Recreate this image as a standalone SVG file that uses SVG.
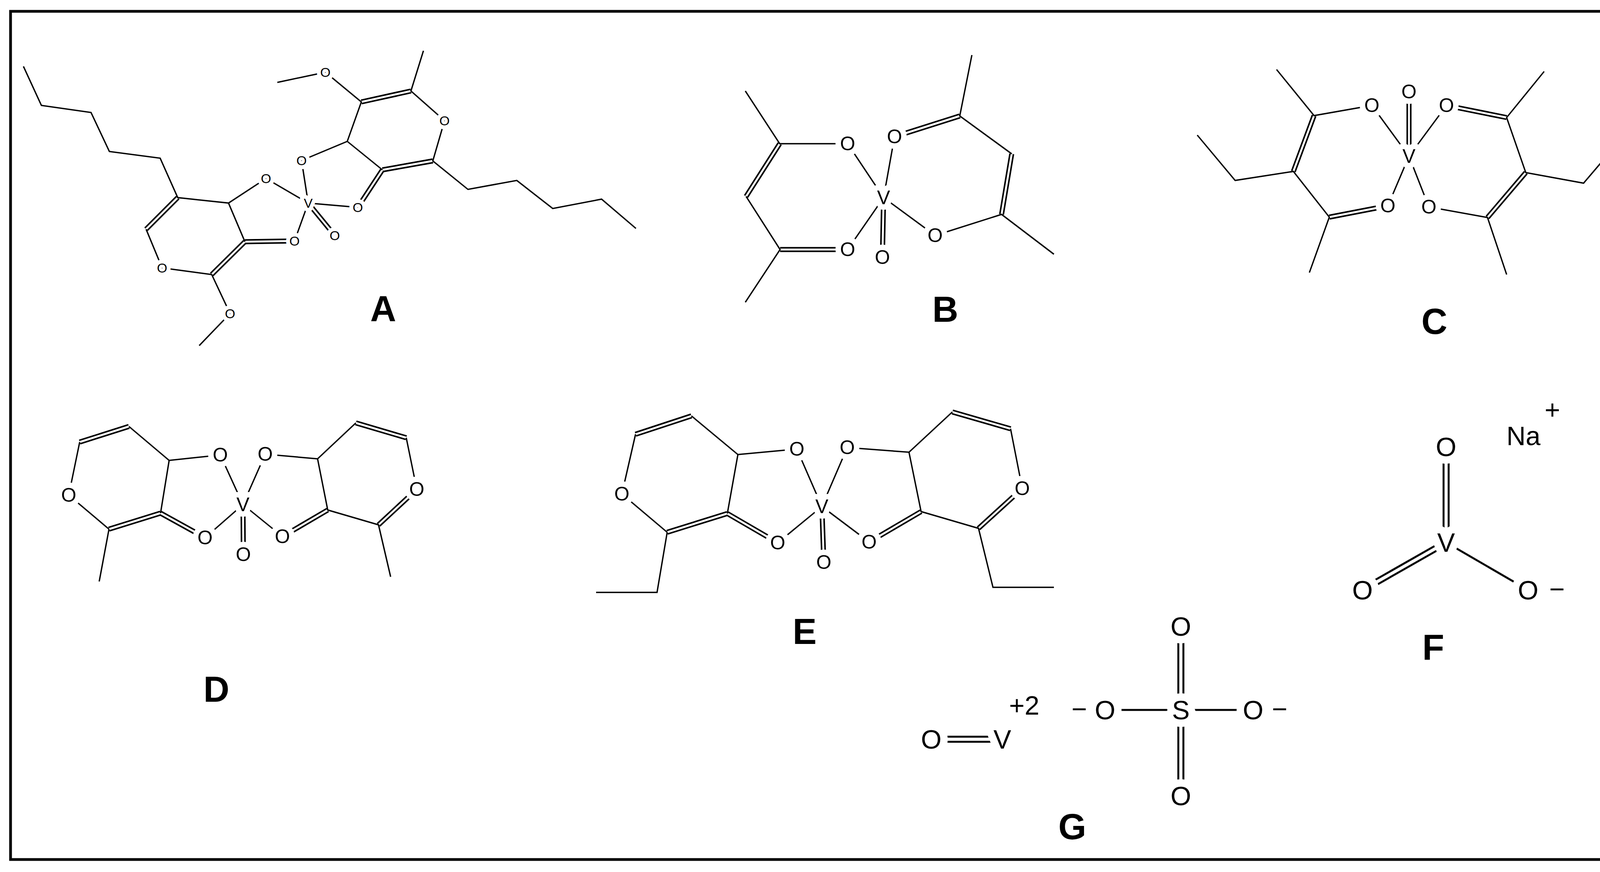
<svg xmlns="http://www.w3.org/2000/svg" width="4237" height="2233" viewBox="0 0 4237 2233">
<style>
.b{stroke:#000;stroke-width:3.5;fill:none}
.db{stroke:#000;stroke-width:13;fill:none}
.dw{stroke:#fff;stroke-width:5;fill:none}
.b2{stroke:#000;stroke-width:5;fill:none}
.db2{stroke:#000;stroke-width:18;fill:none}
.dw2{stroke:#fff;stroke-width:8;fill:none}
text{font-family:"Liberation Sans",Arial,sans-serif;text-anchor:middle;dominant-baseline:central;fill:#000;stroke-linejoin:round}
.at{font-size:34px;stroke:#fff;stroke-width:20;paint-order:stroke}
.am{font-size:50px;stroke:#fff;stroke-width:28;paint-order:stroke}
.al{font-size:68px;stroke:#fff;stroke-width:38;paint-order:stroke}
.lab{font-size:92px;font-weight:bold}
</style>
<rect x="27" y="29" width="4177" height="2172" fill="#fff" stroke="#000" stroke-width="7"/>
<g id="connectors">
<g>
<line class="db" x1="455" y1="506" x2="374" y2="587"/><line class="dw" x1="455" y1="506" x2="374" y2="587"/>
<line class="db" x1="627" y1="619" x2="542" y2="703"/><line class="dw" x1="627" y1="619" x2="542" y2="703"/>
<line class="db" x1="627" y1="619" x2="754" y2="617"/><line class="dw" x1="627" y1="619" x2="754" y2="617"/>
<line class="db" x1="789" y1="520" x2="857" y2="603"/><line class="dw" x1="789" y1="520" x2="857" y2="603"/>
<line class="db" x1="925" y1="261" x2="1052" y2="233"/><line class="dw" x1="925" y1="261" x2="1052" y2="233"/>
<line class="db" x1="1108" y1="412" x2="979" y2="435"/><line class="dw" x1="1108" y1="412" x2="979" y2="435"/>
<line class="db" x1="979" y1="435" x2="916" y2="531"/><line class="dw" x1="979" y1="435" x2="916" y2="531"/>
<polyline class="b" points="60,170 106,270 233,288 280,388 410,405 455,506 585,520 627,619"/>
<polyline class="b" points="374,587 415,686 542,703 589,803 510,885"/>
<polyline class="b" points="585,520 681,457 789,520 754,617"/>
<polyline class="b" points="789,520 772,411 889,362 925,261 833,185 710,211"/>
<polyline class="b" points="889,362 979,435"/>
<polyline class="b" points="1084,130 1052,233 1138,309 1108,412 1198,485 1323,462 1415,534 1540,510 1628,585"/>
<polyline class="b" points="789,520 916,531"/>
</g>
<g>
<line class="db" x1="1996" y1="368" x2="1910" y2="503"/><line class="dw" x1="1996" y1="368" x2="1910" y2="503"/>
<line class="db" x1="1997" y1="639" x2="2170" y2="639"/><line class="dw" x1="1997" y1="639" x2="2170" y2="639"/>
<line class="db" x1="2262" y1="506" x2="2259" y2="659"/><line class="dw" x1="2262" y1="506" x2="2259" y2="659"/>
<line class="db" x1="2290" y1="350" x2="2457" y2="297"/><line class="dw" x1="2290" y1="350" x2="2457" y2="297"/>
<line class="db" x1="2590" y1="394" x2="2564" y2="549"/><line class="dw" x1="2590" y1="394" x2="2564" y2="549"/>
<polyline class="b" points="1908,233 1996,368 2170,368 2262,506 2170,639"/>
<polyline class="b" points="1910,503 1997,639 1908,774"/>
<polyline class="b" points="2262,506 2290,350"/>
<polyline class="b" points="2488,141 2457,297 2590,394"/>
<polyline class="b" points="2262,506 2394,603 2564,549 2698,651"/>
</g>
<g>
<line class="db" x1="3364" y1="296" x2="3311" y2="439"/><line class="dw" x1="3364" y1="296" x2="3311" y2="439"/>
<line class="db" x1="3403" y1="556" x2="3553" y2="527"/><line class="dw" x1="3403" y1="556" x2="3553" y2="527"/>
<line class="db" x1="3607" y1="400" x2="3607" y2="235"/><line class="dw" x1="3607" y1="400" x2="3607" y2="235"/>
<line class="db" x1="3703" y1="270" x2="3857" y2="301"/><line class="dw" x1="3703" y1="270" x2="3857" y2="301"/>
<line class="db" x1="3906" y1="442" x2="3808" y2="557"/><line class="dw" x1="3906" y1="442" x2="3808" y2="557"/>
<polyline class="b" points="3268,178 3364,296 3512,270 3607,400 3553,527"/>
<polyline class="b" points="3065,346 3162,462 3311,439 3403,556 3352,698"/>
<polyline class="b" points="3607,400 3703,270"/>
<polyline class="b" points="3953,183 3857,301 3906,442 4054,469 4152,354"/>
<polyline class="b" points="3607,400 3658,530 3808,557 3857,703"/>
</g>
<g>
<line class="db" x1="204" y1="1132" x2="330" y2="1092"/><line class="dw" x1="204" y1="1132" x2="330" y2="1092"/>
<line class="db" x1="411" y1="1314" x2="279" y2="1355"/><line class="dw" x1="411" y1="1314" x2="279" y2="1355"/>
<line class="db" x1="411" y1="1314" x2="525" y2="1377"/><line class="dw" x1="411" y1="1314" x2="525" y2="1377"/>
<line class="db" x1="622" y1="1292" x2="623" y2="1420"/><line class="dw" x1="622" y1="1292" x2="623" y2="1420"/>
<line class="db" x1="911" y1="1083" x2="1040" y2="1121"/><line class="dw" x1="911" y1="1083" x2="1040" y2="1121"/>
<line class="db" x1="1067" y1="1253" x2="969" y2="1344"/><line class="dw" x1="1067" y1="1253" x2="969" y2="1344"/>
<line class="db" x1="839" y1="1306" x2="723" y2="1374"/><line class="dw" x1="839" y1="1306" x2="723" y2="1374"/>
<polyline class="b" points="279,1355 176,1268 204,1132"/>
<polyline class="b" points="330,1092 433,1179 564,1165 622,1292 525,1377"/>
<polyline class="b" points="433,1179 411,1314"/>
<polyline class="b" points="279,1355 254,1489"/>
<polyline class="b" points="622,1292 679,1163 813,1175 911,1083"/>
<polyline class="b" points="1040,1121 1067,1253"/>
<polyline class="b" points="813,1175 839,1306 969,1344 1000,1477"/>
<polyline class="b" points="622,1292 723,1374"/>
</g>
<g>
<line class="db" x1="1627" y1="1112" x2="1770" y2="1065"/><line class="dw" x1="1627" y1="1112" x2="1770" y2="1065"/>
<line class="db" x1="1862" y1="1315" x2="1708" y2="1363"/><line class="dw" x1="1862" y1="1315" x2="1708" y2="1363"/>
<line class="db" x1="1862" y1="1315" x2="1991" y2="1390"/><line class="dw" x1="1862" y1="1315" x2="1991" y2="1390"/>
<line class="db" x1="2104" y1="1297" x2="2109" y2="1440"/><line class="dw" x1="2104" y1="1297" x2="2109" y2="1440"/>
<line class="db" x1="2438" y1="1055" x2="2587" y2="1098"/><line class="dw" x1="2438" y1="1055" x2="2587" y2="1098"/>
<line class="db" x1="2617" y1="1251" x2="2505" y2="1353"/><line class="dw" x1="2617" y1="1251" x2="2505" y2="1353"/>
<line class="db" x1="2358" y1="1310" x2="2225" y2="1388"/><line class="dw" x1="2358" y1="1310" x2="2225" y2="1388"/>
<polyline class="b" points="1708,1363 1592,1265 1627,1112"/>
<polyline class="b" points="1770,1065 1889,1164 2040,1150 2104,1297 1991,1390"/>
<polyline class="b" points="1889,1164 1862,1315"/>
<polyline class="b" points="1708,1363 1682,1517 1526,1517"/>
<polyline class="b" points="2104,1297 2169,1146 2327,1158 2438,1055"/>
<polyline class="b" points="2587,1098 2617,1251"/>
<polyline class="b" points="2327,1158 2358,1310 2505,1353 2542,1504 2698,1504"/>
<polyline class="b" points="2104,1297 2225,1388"/>
</g>
<g>
<line class="db2" x1="3702" y1="1389" x2="3702" y2="1144"/><line class="dw2" x1="3702" y1="1389" x2="3702" y2="1144"/>
<line class="db2" x1="3702" y1="1389" x2="3488" y2="1511"/><line class="dw2" x1="3702" y1="1389" x2="3488" y2="1511"/>
<line class="b2" x1="3702" y1="1389" x2="3912" y2="1511"/>
</g>
<g>
<line class="db2" x1="2384" y1="1893" x2="2566" y2="1893"/><line class="dw2" x1="2384" y1="1893" x2="2566" y2="1893"/>
<line class="db2" x1="3023" y1="1818" x2="3023" y2="1604"/><line class="dw2" x1="3023" y1="1818" x2="3023" y2="1604"/>
<line class="db2" x1="3023" y1="1818" x2="3023" y2="2038"/><line class="dw2" x1="3023" y1="1818" x2="3023" y2="2038"/>
<line class="b2" x1="2829" y1="1818" x2="3208" y2="1818"/>
</g>
</g>
<g id="molA">
<text class="at" x="681" y="457">O</text><text class="at" x="754" y="617">O</text><text class="at" x="789" y="520">V</text>
<text class="at" x="857" y="603">O</text><text class="at" x="415" y="686">O</text><text class="at" x="589" y="803">O</text>
<text class="at" x="772" y="411">O</text><text class="at" x="833" y="185">O</text><text class="at" x="1138" y="309">O</text>
<text class="at" x="916" y="531">O</text>
<text class="lab" x="981" y="790">A</text>
</g>
<g id="molB">
<text class="am" x="2170" y="368">O</text><text class="am" x="2170" y="639">O</text><text class="am" x="2262" y="506">V</text>
<text class="am" x="2259" y="659">O</text><text class="am" x="2290" y="350">O</text><text class="am" x="2394" y="603">O</text>
<text class="lab" x="2420" y="792">B</text>
</g>
<g id="molC">
<text class="am" x="3512" y="270">O</text><text class="am" x="3607" y="235">O</text><text class="am" x="3703" y="270">O</text>
<text class="am" x="3607" y="400">V</text><text class="am" x="3553" y="527">O</text><text class="am" x="3658" y="530">O</text>
<text class="lab" x="3672" y="823">C</text>
</g>
<g id="molD">
<text class="am" x="564" y="1165">O</text><text class="am" x="622" y="1292">V</text><text class="am" x="525" y="1377">O</text>
<text class="am" x="176" y="1268">O</text><text class="am" x="623" y="1420">O</text><text class="am" x="679" y="1163">O</text>
<text class="am" x="1067" y="1253">O</text><text class="am" x="723" y="1374">O</text>
<text class="lab" x="554" y="1765">D</text>
</g>
<g id="molE">
<text class="am" x="2040" y="1150">O</text><text class="am" x="2104" y="1297">V</text><text class="am" x="1991" y="1390">O</text>
<text class="am" x="1592" y="1265">O</text><text class="am" x="2109" y="1440">O</text><text class="am" x="2169" y="1146">O</text>
<text class="am" x="2617" y="1251">O</text><text class="am" x="2225" y="1388">O</text>
<text class="lab" x="2060" y="1617">E</text>
</g>
<g id="molF">
<text class="al" x="3702" y="1144">O</text><text class="al" x="3702" y="1389">V</text><text class="al" x="3488" y="1511">O</text>
<text class="al" x="3912" y="1511">O</text><text class="al" x="3986" y="1508">−</text>
<text class="al" x="3900" y="1116">Na</text><text class="al" x="3974" y="1049">+</text>
<text class="lab" x="3669" y="1657">F</text>
</g>
<g id="molG">
<text class="al" x="2384" y="1893">O</text><text class="al" x="2566" y="1893">V</text><text class="al" x="2622" y="1806">+2</text>
<text class="al" x="3023" y="1818">S</text><text class="al" x="2829" y="1818">O</text><text class="al" x="3208" y="1818">O</text>
<text class="al" x="2763" y="1815">−</text><text class="al" x="3276" y="1815">−</text>
<text class="al" x="3023" y="1604">O</text><text class="al" x="3023" y="2038">O</text>
<text class="lab" x="2745" y="2117">G</text>
</g>
</svg>
